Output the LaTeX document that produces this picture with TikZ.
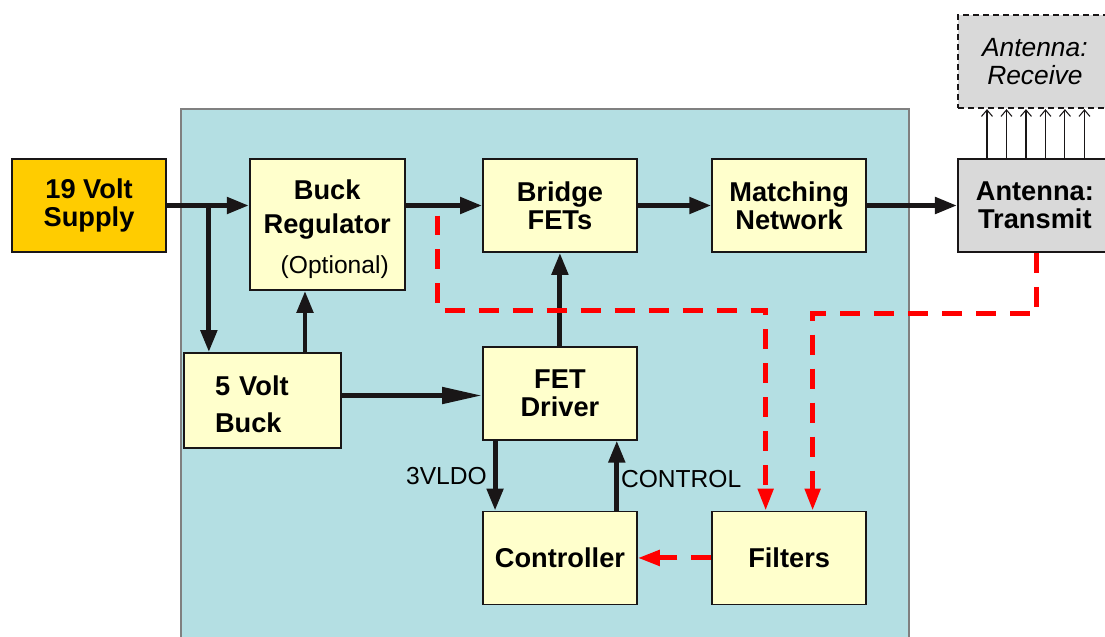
\documentclass[tikz,border=0pt]{standalone}
\usepackage{fontspec}
\setmainfont{Liberation Sans}
\usetikzlibrary{arrows.meta,positioning,calc}
\definecolor{panelblue}{RGB}{180,223,227}
\definecolor{boxyellow}{RGB}{255,255,204}
\definecolor{supplygold}{RGB}{255,204,0}
\definecolor{antgray}{RGB}{217,217,217}
\definecolor{sensered}{RGB}{255,0,0}
\definecolor{linedark}{RGB}{25,22,23}
\tikzset{
  blk/.style={draw=linedark,line width=1pt,fill=boxyellow,align=center,
              font=\fontsize{15.5}{16}\selectfont\bfseries,
              minimum width=3.08cm,minimum height=1.86cm,inner sep=2pt},
  arr/.style={-{Triangle[length=4.4mm,width=3.2mm]},line width=2.8pt,draw=linedark},
  sense/.style={-{Triangle[length=4.4mm,width=3mm]},line width=2.8pt,draw=sensered,
                dash pattern=on 0.4cm off 0.28cm},
  tick/.style={-{Straight Barb[length=1.3mm,width=2.2mm]},line width=0.6pt,draw=linedark},
  lbl/.style={font=\fontsize{14}{16}\selectfont},
}
\begin{document}
\begin{tikzpicture}[x=0.02cm,y=-0.02cm]
  \useasboundingbox (0,0) rectangle (1105,636);
  % board outline
  \filldraw[fill=panelblue,draw=gray,line width=0.8pt] (181,109) rectangle (909,640);

  \node[blk,fill=supplygold] (supply) at (89,205.5) {19 Volt\\Supply};
  \node[blk,minimum width=3.1cm,minimum height=2.62cm,
        right=1.64cm of supply.north east,anchor=north west] (buckreg)
        {\rule{0pt}{17pt}Buck\\[3pt]Regulator\\[7pt]\hspace*{0.3cm}{\mdseries\fontsize{14}{16}\selectfont(Optional)}};
  \node[blk,right=1.53cm of buckreg.north east,anchor=north west] (bridge) {Bridge\\FETs};
  \node[blk,right=1.47cm of bridge] (match) {Matching\\Network};
  \node[blk,fill=antgray,right=1.8cm of match] (xmit) {Antenna:\\Transmit};
  \node[blk,fill=antgray,dash pattern=on 0.12cm off 0.08cm,
        font=\fontsize{15}{16}\selectfont\itshape,above=0.98cm of xmit] (rcv) {Antenna:\\Receive};
  \node[blk,minimum width=3.14cm,minimum height=1.9cm,text width=1.9cm,align=left]
        (fivebuck) at (262.5,400.5) {\rule{0pt}{16pt}5 Volt\\[5pt]Buck};
  \node[blk,below=1.86cm of bridge] (driver) {FET\\Driver};
  \node[blk,below=1.4cm of driver] (ctrl) {Controller};
  \node[blk,right=1.47cm of ctrl] (filt) {Filters};

  % power and drive
  \coordinate (tap) at ($(supply.east)+(0.84cm,0)$);
  \draw[arr] (supply.east) -- (supply.east -| buckreg.west);
  \draw[arr] (tap) -- (tap |- fivebuck.north);
  \draw[arr] ([xshift=0.85cm]fivebuck.north) -- ([xshift=0.85cm]fivebuck.north |- buckreg.south);
  \draw[arr,-{Triangle[length=8mm,width=3.2mm]}] ([yshift=0.1cm]fivebuck.east)
    -- ([yshift=0.1cm]fivebuck.east -| driver.west);
  \draw[arr] (buckreg.east |- bridge.west) -- (bridge.west);
  \draw[arr] (driver.north) -- (bridge.south);
  \draw[arr] (bridge) -- (match);
  \draw[arr] (match) -- (xmit);
  \draw[arr] ([xshift=0.26cm]driver.south west) -- ([xshift=0.26cm]ctrl.north west)
    node[lbl,midway,left] {3VLDO};
  \draw[arr] ([xshift=-0.42cm]ctrl.north east) -- ([xshift=-0.42cm]driver.south east)
    node[lbl,pos=0.45,right,inner sep=1pt] {CONTROL};
  \foreach \k in {0,...,5}
    \draw[tick] ([xshift=0.6cm+\k*0.39cm]xmit.north west) -- ([xshift=0.6cm+\k*0.39cm]rcv.south west);

  % sense lines
  \coordinate (pick) at ($(buckreg.east |- bridge.west)+(0.64cm,-0.2cm)$);
  \draw[sense] (pick) -- ++(0,-1.9cm) -| ([xshift=-0.47cm]filt.north);
  \draw[sense] ([xshift=0.04cm]xmit.south) -- ++(0,-1.22cm) -| ([xshift=0.47cm]filt.north);
  \draw[sense] (filt.west) -- (ctrl.east);
\end{tikzpicture}
\end{document}
